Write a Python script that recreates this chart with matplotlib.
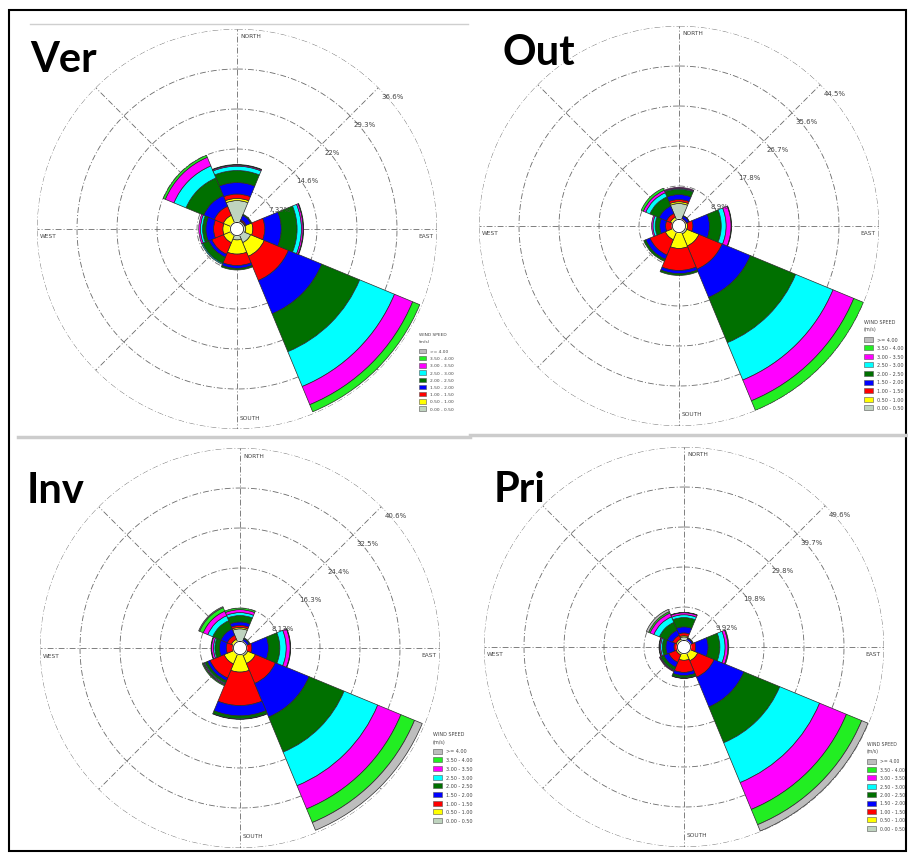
import numpy as np
import matplotlib
matplotlib.use("Agg")
import matplotlib.pyplot as plt
from matplotlib.patches import Rectangle
from matplotlib.lines import Line2D

# ---------------- data ----------------
directions = ["N", "NE", "E", "SE", "S", "SW", "W", "NW"]
dir_deg = [0, 45, 90, 135, 180, 225, 270, 315]

speed_bins = ["0.00 - 0.50", "0.50 - 1.00", "1.00 - 1.50", "1.50 - 2.00",
              "2.00 - 2.50", "2.50 - 3.00", "3.00 - 3.50", "3.50 - 4.00", ">= 4.00"]
bin_colors = ["#bfd4bf", "#ffff00", "#ff0000", "#0000ff", "#007000",
              "#00ffff", "#ff00ff", "#22ee22", "#bdbdbd"]

# cumulative frequency (%) per direction, one value per speed bin (low -> high)
ver_cum = [
    [5.2, 5.6, 6.4, 8.5, 10.7, 11.5, 11.7, 11.8, 11.8],   # N
    [1.5, 1.6, 1.8, 2.7, 2.9, 2.9, 2.9, 2.9, 2.9],        # NE
    [1.6, 2.9, 5.1, 8.1, 11.0, 11.8, 12.1, 12.2, 12.2],   # E
    [2.7, 5.4, 10.2, 16.8, 24.3, 31.2, 34.8, 36.2, 36.2], # SE
    [2.0, 4.6, 6.7, 7.2, 7.5, 7.5, 7.5, 7.5, 7.5],        # S
    [1.3, 2.7, 5.0, 5.6, 6.8, 7.0, 7.0, 7.0, 7.0],        # SW
    [1.2, 2.6, 4.3, 5.7, 6.3, 6.7, 7.0, 7.0, 7.0],        # W
    [1.2, 2.7, 4.5, 6.6, 10.1, 12.5, 14.2, 14.6, 14.6],   # NW
]
out_cum = [
    [5.0, 5.4, 5.9, 7.0, 8.2, 8.4, 8.6, 8.6, 8.6],
    [1.3, 1.5, 1.8, 2.4, 2.5, 2.5, 2.5, 2.5, 2.5],
    [1.3, 1.9, 3.1, 6.8, 9.4, 10.5, 11.6, 11.7, 11.7],
    [1.9, 4.8, 10.4, 17.2, 28.1, 37.1, 42.1, 44.4, 44.4],
    [1.1, 5.0, 9.9, 10.6, 11.0, 11.0, 11.0, 11.0, 11.0],
    [1.1, 3.3, 7.0, 8.0, 8.5, 8.5, 8.5, 8.5, 8.5],
    [1.1, 1.6, 3.0, 4.3, 5.3, 5.8, 6.1, 6.1, 6.1],
    [1.5, 2.1, 3.0, 4.8, 7.0, 8.0, 8.6, 9.1, 9.1],
]
inv_cum = [
    [3.9, 4.2, 4.6, 5.3, 6.6, 7.2, 7.8, 8.1, 8.1],
    [1.0, 1.2, 1.5, 2.0, 2.2, 2.2, 2.2, 2.2, 2.2],
    [0.8, 1.2, 2.4, 5.8, 8.1, 9.4, 10.2, 10.3, 10.3],
    [1.7, 3.4, 7.8, 15.2, 22.9, 30.3, 35.4, 38.4, 40.1],
    [1.4, 4.9, 11.7, 13.8, 14.4, 14.5, 14.5, 14.5, 14.5],
    [1.0, 3.5, 6.6, 7.2, 7.7, 7.9, 8.1, 8.3, 8.3],
    [0.8, 1.5, 2.8, 4.2, 5.1, 5.4, 5.8, 5.9, 5.9],
    [1.2, 1.9, 2.8, 4.2, 6.0, 7.1, 8.1, 8.9, 9.1],
]
pri_cum = [
    [2.5, 2.8, 3.5, 5.0, 7.3, 8.0, 8.5, 8.6, 8.6],
    [1.0, 1.2, 1.5, 2.3, 2.5, 2.5, 2.5, 2.5, 2.5],
    [1.0, 1.5, 2.9, 6.0, 8.9, 10.2, 10.9, 11.1, 11.1],
    [1.7, 3.7, 8.1, 16.1, 25.7, 36.4, 43.6, 47.7, 49.4],
    [1.0, 3.3, 6.3, 7.1, 7.7, 7.8, 7.8, 7.8, 7.8],
    [0.8, 2.1, 4.1, 5.4, 6.2, 6.4, 6.6, 6.6, 6.6],
    [0.8, 1.5, 2.5, 4.5, 5.4, 5.8, 6.1, 6.2, 6.2],
    [1.2, 2.1, 3.1, 4.5, 6.6, 8.1, 9.1, 9.5, 10.1],
]

ver_rings = [7.32, 14.64, 21.96, 29.28, 36.6]
ver_ring_labels = ["7.32%", "14.6%", "22%", "29.3%", "36.6%"]
out_rings = [8.9, 17.8, 26.7, 35.6, 44.5]
out_ring_labels = ["8.9%", "17.8%", "26.7%", "35.6%", "44.5%"]
inv_rings = [8.13, 16.26, 24.39, 32.52, 40.65]
inv_ring_labels = ["8.13%", "16.3%", "24.4%", "32.5%", "40.6%"]
pri_rings = [9.92, 19.84, 29.76, 39.68, 49.6]
pri_ring_labels = ["9.92%", "19.8%", "29.8%", "39.7%", "49.6%"]

titles = ["Ver", "Out", "Inv", "Pri"]

# ---------------- layout ----------------
W, H = 908, 854
fig = plt.figure(figsize=(W / 100, H / 100), dpi=100)
fig.patch.set_facecolor("white")

def fx(x):
    return x / W

def fy(y):
    return 1 - y / H

panels = [
    dict(title=titles[0], cum=ver_cum, rings=ver_rings, rlab=ver_ring_labels,
         cx=237, cy=230, tx=30, ty=72,
         leg=dict(x=419, ty=335, uy=342, r0=352, dy=7.2, bw=7, bh=4.3, fs=3.2)),
    dict(title=titles[1], cum=out_cum, rings=out_rings, rlab=out_ring_labels,
         cx=679, cy=227, tx=503, ty=65,
         leg=dict(x=864, ty=323, uy=330, r0=340, dy=8.6, bw=9, bh=5, fs=3.5)),
    dict(title=titles[2], cum=inv_cum, rings=inv_rings, rlab=inv_ring_labels,
         cx=240, cy=649, tx=27, ty=503,
         leg=dict(x=433, ty=735, uy=743, r0=752, dy=8.7, bw=9, bh=5, fs=3.5)),
    dict(title=titles[3], cum=pri_cum, rings=pri_rings, rlab=pri_ring_labels,
         cx=684, cy=648, tx=494, ty=502,
         leg=dict(x=867, ty=745, uy=752, r0=762, dy=8.4, bw=9, bh=5, fs=3.3)),
]

R = 200
grid_col = "#6a6a6a"
dashdot = (0, (7, 2.5, 1.2, 2.5))
theta = np.deg2rad(dir_deg)
width = np.deg2rad(45)

for p in panels:
    ax = fig.add_axes([fx(p["cx"] - R), fy(p["cy"] + R), 2 * R / W, 2 * R / H],
                      projection="polar")
    ax.set_theta_zero_location("N")
    ax.set_theta_direction(-1)
    rmax = p["rings"][-1]
    ax.set_ylim(0, rmax)
    ax.set_axis_off()

    th = np.linspace(0, 2 * np.pi, 721)
    for r in p["rings"]:
        ax.plot(th, np.full_like(th, r), color=grid_col, lw=0.6, ls=dashdot, zorder=1)
    for d in dir_deg:
        t = np.deg2rad(d)
        ax.plot([t, t], [0, rmax], color=grid_col, lw=0.6, ls=dashdot, zorder=1)

    cum = np.array(p["cum"])
    for k in range(len(speed_bins)):
        bottom = cum[:, k - 1] if k > 0 else np.zeros(len(directions))
        h = cum[:, k] - bottom
        m = h > 0
        ax.bar(theta[m], h[m], width=width, bottom=bottom[m], color=bin_colors[k],
               edgecolor="#2a2a2a", linewidth=0.5, zorder=3, align="center")

    calm = rmax * 0.033
    ax.fill(th, np.full_like(th, calm), color="white", zorder=5)
    ax.plot(th, np.full_like(th, calm), color="#222222", lw=0.6, zorder=6)

    for r, lab in zip(p["rings"], p["rlab"]):
        ax.annotate(lab, xy=(np.deg2rad(45), r), xytext=(3, -8),
                    textcoords="offset pixels", ha="left", va="center",
                    fontsize=5, color="#444444", zorder=7)

    kw = dict(textcoords="offset pixels", fontsize=4.2, color="#444444", va="center")
    ax.annotate("NORTH", xy=(0, rmax), xytext=(3, -7), ha="left", **kw)
    ax.annotate("SOUTH", xy=(np.pi, rmax), xytext=(3, 12), ha="left", **kw)
    ax.annotate("EAST", xy=(np.pi / 2, rmax), xytext=(-4, -7), ha="right", **kw)
    ax.annotate("WEST", xy=(3 * np.pi / 2, rmax), xytext=(3, -7), ha="left", **kw)

    # title
    fig.text(fx(p["tx"]), fy(p["ty"]), p["title"], fontsize=30, fontweight="bold",
             family=["Lato", "DejaVu Sans"], ha="left", va="baseline", color="black")

    # legend
    L = p["leg"]
    fig.text(fx(L["x"]), fy(L["ty"]), "WIND SPEED", fontsize=L["fs"], color="#444444",
             ha="left", va="center")
    fig.text(fx(L["x"]), fy(L["uy"]), "(m/s)", fontsize=L["fs"], color="#444444",
             ha="left", va="center")
    for i, k in enumerate(range(len(speed_bins) - 1, -1, -1)):
        yc = L["r0"] + i * L["dy"]
        fig.add_artist(Rectangle((fx(L["x"]), fy(yc + L["bh"] / 2)), L["bw"] / W, L["bh"] / H,
                                 transform=fig.transFigure, facecolor=bin_colors[k],
                                 edgecolor="#555555", linewidth=0.4))
        fig.text(fx(L["x"] + L["bw"] + 4), fy(yc), speed_bins[k], fontsize=L["fs"],
                 color="#444444", ha="left", va="center")

# separators and frame
fig.add_artist(Line2D([fx(30), fx(468)], [fy(25), fy(25)], color="#cfcfcf", lw=1,
                      transform=fig.transFigure))
fig.add_artist(Line2D([fx(18), fx(470)], [fy(438), fy(438)], color="#cccccc", lw=2.5,
                      transform=fig.transFigure))
fig.add_artist(Line2D([fx(470), fx(908)], [fy(436), fy(436)], color="#cccccc", lw=2.5,
                      transform=fig.transFigure))
fig.add_artist(Rectangle((fx(9), fy(852)), (906 - 9) / W, (852 - 11) / H,
                         transform=fig.transFigure, facecolor="none",
                         edgecolor="black", linewidth=1.5))

fig.savefig("out.png", dpi=100, facecolor="white")
